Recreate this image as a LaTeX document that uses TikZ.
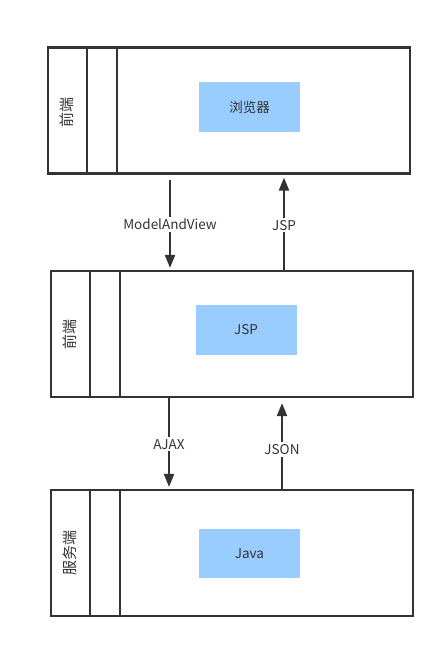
\documentclass[tikz,border=0pt]{standalone}
\usepackage{fontspec}
\setmainfont{Noto Sans CJK SC}
\usepackage{tikz}
\usetikzlibrary{positioning, calc, arrows.meta}
\definecolor{lineGray}{HTML}{333333}
\definecolor{compBlue}{HTML}{99CCFF}
\tikzset{
  laneBox/.style={rectangle, draw=lineGray, line width=2.2pt, minimum width=362pt, minimum height=126pt, inner sep=0pt},
  laneDiv/.style={draw=lineGray, line width=2.2pt},
  laneLbl/.style={rotate=90, font=\fontsize{15}{17}\selectfont, text=lineGray, inner sep=0pt},
  compNode/.style={rectangle, fill=compBlue, minimum width=101pt, minimum height=50pt, font=\fontsize{13.5}{15}\selectfont, text=lineGray, inner sep=0pt},
  flowArr/.style={draw=lineGray, line width=2.2pt, -{Triangle[length=13pt, width=10pt]}},
  flowLbl/.style={fill=white, font=\fontsize{13.5}{15}\selectfont, text=lineGray, inner sep=2pt},
}
\begin{document}
\begin{tikzpicture}[x=1pt, y=-1pt]
\useasboundingbox (0,0) rectangle (445,649);
% 三层泳道
\node (lane1) [laneBox] at (229,110.5) {};
\node (lane2) [laneBox] at (232,334) {};
\node (lane3) [laneBox] at (232,553) {};
\foreach \ln in {lane1, lane2, lane3} {
  \draw [laneDiv] ([xshift=40pt]\ln.north west) -- ([xshift=40pt]\ln.south west);
  \draw [laneDiv] ([xshift=70pt]\ln.north west) -- ([xshift=70pt]\ln.south west);
}
\node (lbl1) [laneLbl] at ([xshift=20pt, yshift=-2pt]lane1.west) {前端};
\node (lbl2) [laneLbl] at ([xshift=20pt]lane2.west) {前端};
\node (lbl3) [laneLbl] at ([xshift=20pt]lane3.west) {服务端};

\node (browser) [compNode] at (249.5,107) {浏览器};
\node (jsp) [compNode] at (246,330) {JSP};
\node (java) [compNode, minimum height=49pt] at (249.5,553.5) {Java};

% 连线
\coordinate (mvX) at (170,0);
\coordinate (jspX) at (284,0);
\coordinate (ajaxX) at (169,0);
\coordinate (jsonX) at (282,0);
\draw [flowArr, shorten <=5pt, shorten >=2pt] (lane1.south -| mvX) -- node[flowLbl, pos=0.52]{ModelAndView} (lane2.north -| mvX);
\draw [flowArr, shorten >=3pt] (lane2.north -| jspX) -- node[flowLbl, pos=0.47]{JSP} (lane1.south -| jspX);
\draw [flowArr, shorten >=2pt] (lane2.south -| ajaxX) -- node[flowLbl, pos=0.51]{AJAX} (lane3.north -| ajaxX);
\draw [flowArr, shorten >=5pt] (lane3.north -| jsonX) -- node[flowLbl, pos=0.435]{JSON} (lane2.south -| jsonX);
\end{tikzpicture}
\end{document}
